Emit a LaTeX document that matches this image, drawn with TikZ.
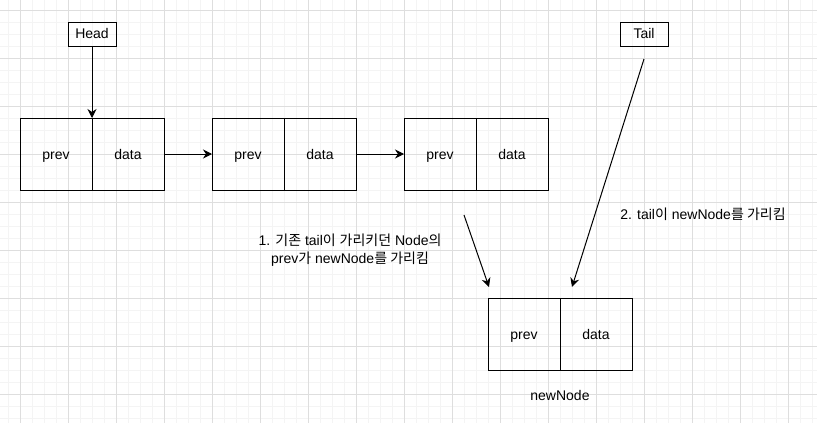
\documentclass[tikz,border=0pt]{standalone}
\usepackage{fontspec}
\setmainfont{Liberation Sans}
\newfontfamily\kr{Noto Sans CJK KR}
\usetikzlibrary{positioning, arrows.meta}

\definecolor{gridmajor}{RGB}{222,222,222}
\definecolor{gridminor}{RGB}{244,244,244}

\tikzset{
  cell/.style={draw, line width=1pt, minimum width=72pt, minimum height=72pt, inner sep=0pt, outer sep=0pt, text height=12pt, text depth=1pt},
  ptr/.style={draw, line width=1pt, minimum width=48pt, minimum height=24pt, inner sep=0pt, text height=11.6pt, text depth=2pt},
  arr/.style={line width=1pt, -{Stealth[length=9pt, width=9pt, inset=3pt]}},
}

\begin{document}
\begin{tikzpicture}[x=1pt, y=-1pt, font=\fontsize{14}{17.5}\selectfont]
        \useasboundingbox (0,0) rectangle (817,423);
        % background grid
        \foreach \x in {8,20,...,812} \draw[gridminor, line width=0.8pt] (\x,0) -- (\x,423);
        \foreach \y in {10.5,22.5,...,418.5} \draw[gridminor, line width=0.8pt] (0,\y) -- (817,\y);
        \foreach \x in {20,68,...,788} \draw[gridmajor, line width=0.8pt] (\x,0) -- (\x,423);
        \foreach \y in {10.5,58.5,...,394.5} \draw[gridmajor, line width=0.8pt] (0,\y) -- (817,\y);

        % pointers
        \node[ptr] (head) at (92,34) {Head};
        \node[ptr] (tail) at (644,34) {Tail};
        % list nodes
        \node[cell] (n1p) at (56,154) {prev};
        \node[cell] (n1d) at (128,154) {data};
        \node[cell] (n2p) at (248,154) {prev};
        \node[cell] (n2d) at (320,154) {data};
        \node[cell] (n3p) at (440,154) {prev};
        \node[cell] (n3d) at (512,154) {data};
        % new node
        \node[cell] (newp) at (524,334) {prev};
        \node[cell] (newd) at (596,334) {data};
        \node (newlbl) at (560,395) {newNode};
        % notes
        \node[align=center] (note1) at (350,250) {1. {\kr 기존} tail{\kr 이} {\kr 가리키던} Node{\kr 의}\\prev{\kr 가} newNode{\kr 를 가리킴}};
        \node (note2) at (703,214) {2. tail{\kr 이} newNode{\kr 를 가리킴}};
        \coordinate (s1) at (464,215);
        \coordinate (e1) at (489,287);
        \coordinate (s2) at (644,59);
        \coordinate (e2) at (572,287);

        \draw[arr] (head.south) -- (n1p.north east);
        \draw[arr] (n1d.east) -- (n2p.west);
        \draw[arr] (n2d.east) -- (n3p.west);
        \draw[arr] (s1) -- (e1);
        \draw[arr] (s2) -- (e2);
    \end{tikzpicture}
\end{document}
